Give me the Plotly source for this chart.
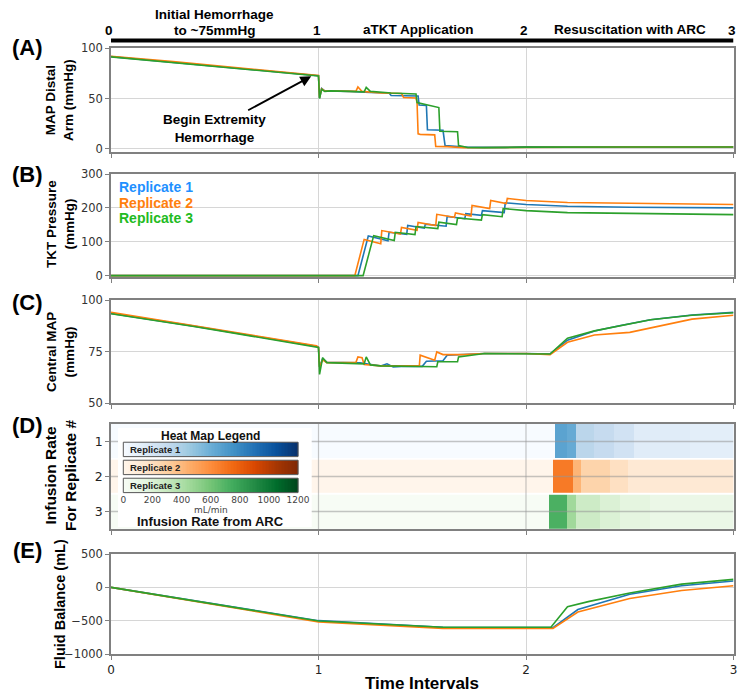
import numpy as np
import plotly.graph_objects as go

# reference canvas is 748x695; the page adds an 8px body margin, so the figure is 740x687
OFF = 8
W, H = 748 - OFF, 695 - OFF

# ---------------- data ----------------
replicates = ["Replicate 1", "Replicate 2", "Replicate 3"]
line_colors = ["#1f77b4", "#ff7f0e", "#2ca02c"]
label_colors = ["#1e90ff", "#ff7f0e", "#22bb22"]
heat_scales = ["Blues", "Oranges", "Greens"]

phase_ticks = [0, 1, 2, 3]
phase_centers = [0.5, 1.48, 2.5]
phase_labels = [["Initial Hemorrhage", "to ~75mmHg"], ["aTKT Application"], ["Resuscitation with ARC"]]

# (A) MAP distal arm (mmHg)
arm_x1 = [0, 0.1, 0.2, 0.3, 0.4, 0.5, 0.6, 0.7, 0.8, 0.9, 0.99, 1.0, 1.005, 1.015, 1.03, 1.06, 1.15, 1.25, 1.34, 1.35,
          1.44, 1.48, 1.485, 1.52, 1.525, 1.6, 1.61, 1.65, 1.72, 1.9, 2.0, 2.2, 2.5, 2.8, 3.0]
arm_y1 = [91.5, 89.6, 88.0, 86.3, 84.5, 82.6, 80.6, 78.7, 76.8, 74.8, 73.0, 72.5, 50.5, 60, 57.5, 57.5, 57, 56, 55.5, 53,
          52.5, 52.5, 43.5, 43, 19, 18.5, 3.3, 2.8, 1.6, 1.6, 2.2, 2.0, 2.0, 2.0, 2.0]
arm_x2 = [0, 0.1, 0.2, 0.3, 0.4, 0.5, 0.6, 0.7, 0.8, 0.9, 0.99, 1.0, 1.005, 1.015, 1.03, 1.06, 1.15, 1.18, 1.19, 1.21,
          1.3, 1.4, 1.41, 1.47, 1.475, 1.48, 1.49, 1.56, 1.565, 1.62, 1.7, 1.9, 2.0, 2.5, 3.0]
arm_y2 = [91.8, 89.8, 88.2, 86.5, 84.7, 82.8, 80.9, 78.9, 77.0, 75.1, 73.3, 72.8, 51, 59.5, 57.5, 57.5, 57, 57, 61.5, 57,
          55.5, 55, 51, 50.5, 46, 15, 14.5, 14, 2.5, 2.3, 1.2, 1.5, 1.8, 2, 2]
arm_x3 = [0, 0.1, 0.2, 0.3, 0.4, 0.5, 0.6, 0.7, 0.8, 0.9, 0.99, 1.0, 1.005, 1.015, 1.03, 1.06, 1.15, 1.22, 1.23, 1.25,
          1.35, 1.45, 1.47, 1.475, 1.58, 1.585, 1.67, 1.675, 1.72, 1.8, 2.0, 2.5, 3.0]
arm_y3 = [91.2, 89.3, 87.7, 86.0, 84.2, 82.3, 80.4, 78.4, 76.5, 74.5, 72.6, 72.3, 50, 59, 57, 57.5, 57, 56.5, 61, 57,
          55.5, 54.5, 54.5, 46, 41, 17.5, 17, 3.3, 1.5, 1.3, 1.8, 2, 2]

# (B) TKT pressure (mmHg)
tkt_x1 = [0, 1.19, 1.24, 1.335, 1.34, 1.425, 1.43, 1.51, 1.515, 1.615, 1.62, 1.705, 1.71, 1.785, 1.79, 1.895, 1.9,
          2.0, 2.2, 2.5, 3.0]
tkt_y1 = [0, 0, 117, 103, 128, 122, 148, 140, 152, 146, 175, 168, 183, 178, 192, 186, 215, 210, 205, 202, 200]
tkt_x2 = [0, 1.175, 1.22, 1.30, 1.305, 1.395, 1.40, 1.475, 1.48, 1.565, 1.57, 1.655, 1.66, 1.735, 1.74, 1.825, 1.83,
          1.905, 1.91, 2.0, 2.2, 2.5, 3.0]
tkt_y2 = [0, 0, 107, 94, 133, 123, 142, 134, 157, 148, 181, 172, 185, 176, 207, 198, 222, 213, 228, 222, 216, 213, 210]
tkt_x3 = [0, 1.215, 1.266, 1.365, 1.37, 1.465, 1.47, 1.575, 1.58, 1.665, 1.67, 1.785, 1.79, 1.885, 1.89, 2.0, 2.2,
          2.5, 3.0]
tkt_y3 = [0, 0, 118, 104, 128, 121, 145, 139, 158, 151, 170, 164, 180, 174, 198, 192, 186, 183, 180]

# (C) Central MAP (mmHg)
cmap_x1 = [0, 0.2, 0.4, 0.6, 0.8, 0.99, 1.0, 1.005, 1.02, 1.04, 1.2, 1.3, 1.33, 1.36, 1.4, 1.5, 1.52, 1.6, 1.62, 1.7,
           1.8, 2.0, 2.116, 2.2, 2.33, 2.45, 2.6, 2.8, 3.0]
cmap_y1 = [93.5, 90.5, 87.3, 84.0, 80.7, 77.5, 77, 67.5, 71.5, 69.8, 69.5, 68, 69, 67.5, 67.8, 67.8, 70.3, 70.5, 73.2,
           73.4, 74, 74, 73.8, 80.5, 85, 87.5, 90.4, 92.7, 94]
cmap_x2 = [0, 0.2, 0.4, 0.6, 0.8, 0.99, 1.0, 1.005, 1.02, 1.04, 1.18, 1.19, 1.21, 1.22, 1.3, 1.486, 1.49, 1.56, 1.57,
           1.6, 1.7, 1.8, 2.0, 2.116, 2.2, 2.33, 2.5, 2.7, 2.8, 3.0]
cmap_y2 = [94, 90.8, 87.6, 84.3, 81.0, 77.8, 77, 67.5, 71, 69.6, 69.6, 72.4, 72, 68.7, 68, 68, 73.2, 70.8, 74.8, 73.5,
           73.5, 74, 74, 73.5, 79.5, 83, 84.3, 88.8, 90.7, 92.6]
cmap_x3 = [0, 0.2, 0.4, 0.6, 0.8, 0.99, 1.0, 1.005, 1.02, 1.04, 1.22, 1.23, 1.25, 1.3, 1.57, 1.575, 1.67, 1.675, 1.8,
           2.116, 2.2, 2.33, 2.45, 2.6, 2.8, 3.0]
cmap_y3 = [93.3, 90.3, 87.1, 83.8, 80.5, 77.3, 77, 63.9, 72, 69.6, 69, 72.4, 68.5, 68, 67.6, 70, 70, 72.4, 74, 73.8,
           81.5, 85, 87.5, 90.4, 92.6, 93.8]

# (D) Infusion rate from ARC (mL/min), piecewise-constant per replicate
inf_edges1 = [0, 2.14, 2.197, 2.24, 2.328, 2.424, 2.52, 2.79, 3.0]
inf_rate1 = [0, 660, 620, 340, 300, 230, 140, 120]
inf_edges2 = [0, 2.131, 2.225, 2.265, 2.405, 2.492, 3.0]
inf_rate2 = [0, 680, 420, 270, 190, 120]
inf_edges3 = [0, 2.112, 2.199, 2.24, 2.357, 2.453, 2.598, 3.0]
inf_rate3 = [0, 720, 450, 270, 200, 150, 100]
rate_ticks = [0, 200, 400, 600, 800, 1000, 1200]

# (E) Fluid balance (mL)
fb_x1 = [0, 1, 1.6, 2.13, 2.25, 2.5, 2.75, 3]
fb_y1 = [0, -500, -600, -605, -333, -105, 24, 95]
fb_x2 = [0, 1, 1.6, 2.13, 2.25, 2.5, 2.75, 3]
fb_y2 = [0, -520, -615, -615, -371, -167, -48, 24]
fb_x3 = [0, 1, 1.6, 2.12, 2.2, 2.3, 2.5, 2.75, 3]
fb_y3 = [0, -505, -598, -598, -290, -214, -86, 48, 119]

# ---------------- figure ----------------
def yp(p):
    """reference pixel row -> paper fraction"""
    return 1 - (p - OFF) / H

def xp(p):
    """reference pixel column -> paper fraction"""
    return (p - OFF) / W

fig = go.Figure()

series = [
    ("", [(arm_x1, arm_y1), (arm_x2, arm_y2), (arm_x3, arm_y3)]),
    ("2", [(tkt_x1, tkt_y1), (tkt_x2, tkt_y2), (tkt_x3, tkt_y3)]),
    ("3", [(cmap_x1, cmap_y1), (cmap_x2, cmap_y2), (cmap_x3, cmap_y3)]),
    ("5", [(fb_x1, fb_y1), (fb_x2, fb_y2), (fb_x3, fb_y3)]),
]
for ax, group in series:
    for i, (xs, ys) in enumerate(group):
        fig.add_trace(go.Scatter(x=xs, y=ys, mode="lines", name=replicates[i],
                                 line=dict(color=line_colors[i], width=1.6),
                                 xaxis="x" + ax, yaxis="y" + ax, showlegend=False, hoverinfo="skip"))

# heat map rows
row_bounds = [(0.5, 1.478), (1.522, 2.478), (2.522, 3.5)]
for i, (edges, rates) in enumerate([(inf_edges1, inf_rate1), (inf_edges2, inf_rate2), (inf_edges3, inf_rate3)]):
    fig.add_trace(go.Heatmap(x=edges, y=list(row_bounds[i]), z=[rates], colorscale=heat_scales[i],
                             zmin=0, zmax=1200, showscale=False, xaxis="x4", yaxis="y4", hoverinfo="skip"))
# grid lines drawn over heat map
for r in [1, 2, 3]:
    fig.add_trace(go.Scatter(x=[0, 3], y=[r, r], mode="lines", line=dict(color="rgba(150,150,150,0.55)", width=1.5),
                             xaxis="x4", yaxis="y4", showlegend=False, hoverinfo="skip"))
for t in [1, 2]:
    fig.add_trace(go.Scatter(x=[t, t], y=[0.5, 3.5], mode="lines", line=dict(color="rgba(150,150,150,0.55)", width=1.2),
                             xaxis="x4", yaxis="y4", showlegend=False, hoverinfo="skip"))

# inset heat-map legend (gradient bars)
grad_edges = np.linspace(0, 1200, 121)
grad_vals = (grad_edges[:-1] + grad_edges[1:]) / 2
for i in range(3):
    fig.add_trace(go.Heatmap(x=grad_edges, y=[i + 1 - 0.4, i + 1 + 0.4], z=[grad_vals], colorscale=heat_scales[i],
                             zmin=0, zmax=1200, showscale=False, xaxis="x6", yaxis="y6", hoverinfo="skip"))

xdom = [xp(111), xp(733.5)]
grid_c = "#d6d6d6"
axis_c = "#808080"
tick_font = dict(family="DejaVu Sans", size=11.5, color="#333")

def xax(show_labels=False):
    return dict(domain=xdom, range=[0, 3], tickvals=phase_ticks, showticklabels=show_labels,
                ticks="outside", ticklen=4, tickcolor=axis_c, showgrid=True, gridcolor=grid_c, gridwidth=1,
                showline=True, linecolor=axis_c, linewidth=1.5, mirror=True, zeroline=False,
                tickfont=dict(family="DejaVu Sans", size=12, color="#222"))

def yax(dom, rng, tv, anchor):
    return dict(domain=dom, range=rng, tickvals=tv, ticks="outside", ticklen=4, tickcolor=axis_c,
                showgrid=True, gridcolor=grid_c, gridwidth=1, showline=True, linecolor=axis_c, linewidth=1.5,
                mirror=True, zeroline=False, tickfont=tick_font, anchor=anchor)

layout = dict(
    width=W, height=H, margin=dict(l=0, r=0, t=0, b=0),
    paper_bgcolor="white", plot_bgcolor="white", template="none", showlegend=False,
    xaxis=dict(xax(), anchor="y"),
    yaxis=yax([yp(152), yp(48)], [-3, 100], [0, 50, 100], "x"),
    xaxis2=dict(xax(), anchor="y2"),
    yaxis2=yax([yp(277), yp(174)], [-4, 300], [0, 100, 200, 300], "x2"),
    xaxis3=dict(xax(), anchor="y3"),
    yaxis3=yax([yp(403), yp(300)], [50, 100], [50, 75, 100], "x3"),
    xaxis4=dict(xax(), anchor="y4", showgrid=False),
    yaxis4=dict(yax([yp(529), yp(424)], [3.5, 0.5], [1, 2, 3], "x4"), showgrid=False,
                tickfont=dict(family="DejaVu Sans", size=12.5, color="#222")),
    xaxis5=dict(xax(True), anchor="y5"),
    yaxis5=yax([yp(654), yp(554)], [-1000, 500], [-1000, -500, 0, 500], "x5"),
    xaxis6=dict(domain=[xp(118), xp(311.7)], range=[-36.4, 1294.1], anchor="free", position=yp(492.7),
                tickvals=rate_ticks, ticks="", showgrid=False,
                showline=False, zeroline=False, tickfont=dict(family="DejaVu Sans", size=9, color="#444")),
    yaxis6=dict(domain=[yp(527), yp(428)], range=[5.31, -0.19], anchor="x6", visible=False, showgrid=False),
)
fig.update_layout(**layout)

shapes = []
# phase bar at top
shapes.append(dict(type="line", xref="x", yref="paper", x0=0, x1=3, y0=yp(40.5), y1=yp(40.5),
                   line=dict(color="black", width=4)))
for i in range(3):
    shapes.append(dict(type="rect", xref="x6", yref="y6", x0=0, x1=1200, y0=i + 1 - 0.4, y1=i + 1 + 0.4,
                       line=dict(color="#555", width=1)))
fig.update_layout(shapes=shapes)

bold = "Liberation Sans"
ann = []
for c, lines in zip(phase_centers, phase_labels):
    rows = [29.5] if len(lines) == 1 else [15, 30.5]
    for txt, r in zip(lines, rows):
        ann.append(dict(x=c, y=yp(r), xref="x", yref="paper", xanchor="center", yanchor="middle", showarrow=False,
                        text="<b>%s</b>" % txt, font=dict(family=bold, size=13.5, color="black")))
for t in phase_ticks:
    ann.append(dict(x=t, y=yp(30), xref="x", yref="paper", xanchor="center", yanchor="middle", showarrow=False,
                    xshift=-2, text="<b>%d</b>" % t, font=dict(family=bold, size=13.5, color="black")))

for lab, cy in zip(["(A)", "(B)", "(C)", "(D)", "(E)"], [48, 174, 303, 425, 550]):
    ann.append(dict(x=xp(27), y=yp(cy), xref="paper", yref="paper", xanchor="center", yanchor="middle",
                    showarrow=False, text="<b>%s</b>" % lab, font=dict(family=bold, size=22, color="black")))

ytitles = [("MAP Distal<br>Arm (mmHg)", 100, 13.5), ("TKT Pressure<br>(mmHg)", 224, 13.5),
           ("Central MAP<br>(mmHg)", 352, 13.5), ("Infusion Rate<br>For Replicate #", 476, 15.5),
           ("Fluid Balance (mL)", 604, 14.5)]
for txt, cy, sz in ytitles:
    ann.append(dict(x=xp(60), y=yp(cy), xref="paper", yref="paper", xanchor="center", yanchor="middle",
                    showarrow=False, textangle=-90,
                    text="<b>%s</b>" % txt, font=dict(family=bold, size=sz, color="black")))

ann.append(dict(x=1.5, y=yp(683), xref="x5", yref="paper", xanchor="center", yanchor="middle", showarrow=False,
                text="<b>Time Intervals</b>", font=dict(family=bold, size=17, color="black")))

# arrow annotation in (A)
ann.append(dict(x=0.965, y=72, xref="x", yref="y", ax=0.5, ay=20.5, axref="x", ayref="y",
                text="<b>Begin Extremity<br>Hemorrhage</b>", showarrow=True, arrowhead=2, arrowsize=1.2,
                arrowwidth=1.8, arrowcolor="black", font=dict(family=bold, size=13.5, color="black")))

# replicate labels in (B)
for i, lab in enumerate(replicates):
    ann.append(dict(x=xp(117), y=yp(187 + 15.7 * i), xref="paper", yref="paper", xanchor="left", yanchor="middle",
                    showarrow=False, text="<b>%s</b>" % lab, font=dict(family=bold, size=14, color=label_colors[i])))

# inset legend texts
ann.append(dict(x=600, y=0.254, xref="x6", yref="y6", showarrow=False, text="<b>Heat Map Legend</b>",
                font=dict(family=bold, size=12, color="#111")))
for i, lab in enumerate(replicates):
    ann.append(dict(x=30, y=i + 1, xref="x6", yref="y6", xanchor="left", showarrow=False,
                    text="<b>%s</b>" % lab, font=dict(family=bold, size=9.5, color="#222")))
ann.append(dict(x=600, y=4.35, xref="x6", yref="y6", showarrow=False, text="mL/min",
                font=dict(family="DejaVu Sans", size=9, color="#444")))
ann.append(dict(x=600, y=4.98, xref="x6", yref="y6", showarrow=False, text="<b>Infusion Rate from ARC</b>",
                font=dict(family=bold, size=13, color="#111")))

fig.update_layout(annotations=ann)
fig.write_html("out.html")
